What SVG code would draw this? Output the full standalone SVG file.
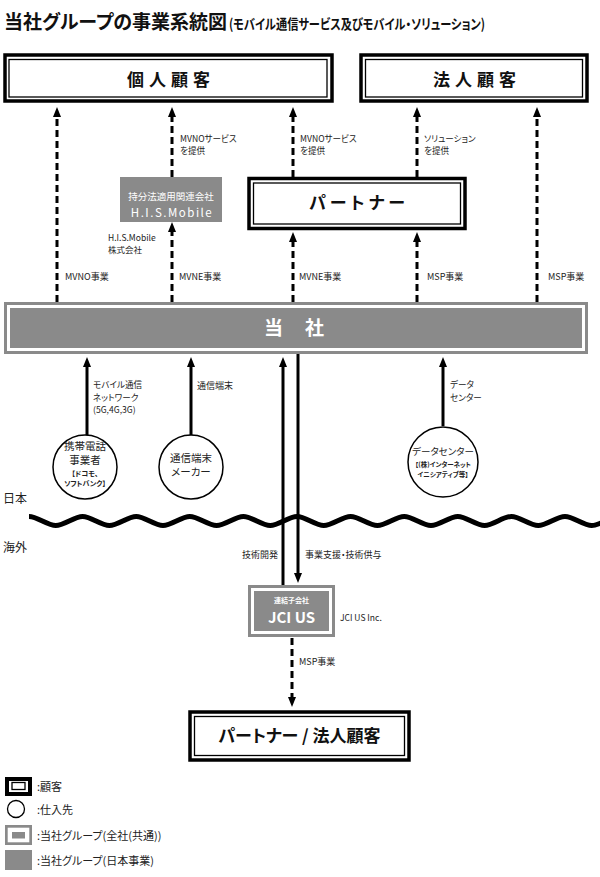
<svg xmlns="http://www.w3.org/2000/svg" width="600" height="877" viewBox="0 0 600 877">
<defs>
<style>
text{font-family:'Noto Sans CJK JP','Noto Sans',sans-serif;font-feature-settings:"palt";fill:#222}
.lbl{font-size:9px}
.ml{font-size:8.6px}
.box{font-size:17px;font-weight:bold;fill:#111;text-anchor:middle}
.wt{fill:#fff;text-anchor:middle}
.ctr{text-anchor:middle}
.outer{fill:#fff;stroke:#000;stroke-width:3.5}
.inner{fill:none;stroke:#000;stroke-width:1.3}
.grey{fill:#8a8a8a}
.white{fill:#fff}
.dash{stroke:#000;stroke-width:3;stroke-dasharray:7 4;fill:none}
.solid{stroke:#000;stroke-width:3;fill:none}
.circ{fill:#fff;stroke:#000;stroke-width:1.5}
</style>
<marker id="ah" viewBox="0 0 10 8" refX="0" refY="4" markerWidth="10" markerHeight="8" markerUnits="userSpaceOnUse" orient="auto">
<path d="M0,0 L10,4 L0,8 z" fill="#000"/>
</marker>
</defs>
<rect width="600" height="877" fill="#fff"/>

<g id="title">
<text x="4" y="29" style="font-size:19px;font-weight:bold;fill:#111">当社グループの事業系統図</text>
<text x="229" y="29" style="font-size:14px;font-weight:bold;fill:#111" textLength="256" lengthAdjust="spacingAndGlyphs">(モバイル通信サービス及びモバイル・ソリューション)</text>
</g>

<g id="connectors">
<line class="dash" x1="57" y1="302" x2="57" y2="117" marker-end="url(#ah)"/>
<line class="dash" x1="172" y1="302" x2="172" y2="232" marker-end="url(#ah)"/>
<line class="dash" x1="172" y1="177" x2="172" y2="117" marker-end="url(#ah)"/>
<line class="dash" x1="293" y1="302" x2="293" y2="242" marker-end="url(#ah)"/>
<line class="dash" x1="293" y1="177" x2="293" y2="117" marker-end="url(#ah)"/>
<line class="dash" x1="417" y1="302" x2="417" y2="242" marker-end="url(#ah)"/>
<line class="dash" x1="417" y1="177" x2="417" y2="117" marker-end="url(#ah)"/>
<line class="dash" x1="537" y1="302" x2="537" y2="117" marker-end="url(#ah)"/>
<line class="solid" x1="87" y1="435" x2="87" y2="367" marker-end="url(#ah)"/>
<line class="solid" x1="191" y1="435" x2="191" y2="367" marker-end="url(#ah)"/>
<line class="solid" x1="443" y1="426" x2="443" y2="367" marker-end="url(#ah)"/>
<line class="solid" x1="283" y1="585" x2="283" y2="367" marker-end="url(#ah)"/>
<line class="solid" x1="298" y1="354" x2="298" y2="573" marker-end="url(#ah)"/>
<line class="dash" x1="292" y1="638" x2="292" y2="697" marker-end="url(#ah)"/>
</g>

<g id="wave">
<path d="M29,516.5 c8.5,0 18.3,9 26.8,9 s18.3,-9 26.8,-9 s18.3,9 26.8,9 s18.3,-9 26.8,-9 s18.3,9 26.8,9 s18.3,-9 26.8,-9 s18.3,9 26.8,9 s18.3,-9 26.8,-9 s18.3,9 26.8,9 s18.3,-9 26.8,-9 s18.3,9 26.8,9 s18.3,-9 26.8,-9 s18.3,9 26.8,9 s18.3,-9 26.8,-9 s18.3,9 26.8,9 s18.3,-9 26.8,-9 s18.3,9 26.8,9 s18.3,-9 26.8,-9 s18.3,9 26.8,9 s18.3,-9 26.8,-9 s18.3,9 26.8,9 s18.3,-9 26.8,-9" fill="none" stroke="#000" stroke-width="5"/>
<text x="3" y="503" style="font-size:12px">日本</text>
<text x="3" y="552" style="font-size:12px">海外</text>
</g>

<g id="labels">
<text class="ml" x="180" y="141.5">MVNOサービス</text>
<text class="ml" x="180" y="154">を提供</text>
<text class="ml" x="300" y="141.5">MVNOサービス</text>
<text class="ml" x="300" y="154">を提供</text>
<text class="ml" x="424" y="141.5">ソリューション</text>
<text class="ml" x="424" y="154">を提供</text>
<text class="lbl" x="65" y="280">MVNO事業</text>
<text class="lbl" x="179" y="280">MVNE事業</text>
<text class="lbl" x="299" y="280">MVNE事業</text>
<text class="lbl" x="427" y="280">MSP事業</text>
<text class="lbl" x="548" y="280">MSP事業</text>
<text class="ml" x="93" y="388">モバイル通信</text>
<text class="ml" x="93" y="400.5">ネットワーク</text>
<text class="ml" x="93" y="413">(5G,4G,3G)</text>
<text class="lbl" x="197" y="389">通信端末</text>
<text class="ml" x="450" y="388">データ</text>
<text class="ml" x="450" y="400.5">センター</text>
<text class="lbl" x="278" y="558" text-anchor="end">技術開発</text>
<text class="lbl" x="305" y="558">事業支援・技術供与</text>
<text class="lbl" x="299" y="665">MSP事業</text>
</g>

<g id="kojin">
<rect class="outer" x="5" y="55" width="327" height="46"/>
<rect class="inner" x="9" y="59.5" width="318" height="37.5"/>
<text class="box" x="171" y="86" letter-spacing="5">個人顧客</text>
</g>

<g id="houjin">
<rect class="outer" x="361" y="55" width="226" height="46"/>
<rect class="inner" x="365.5" y="59.5" width="217" height="37.5"/>
<text class="box" x="477" y="86" letter-spacing="5">法人顧客</text>
</g>

<g id="his">
<rect class="grey" x="120" y="177" width="102" height="45"/>
<text class="wt" x="171" y="200" style="font-size:9.5px">持分法適用関連会社</text>
<text class="wt" x="172" y="217" style="font-size:11.5px" letter-spacing="1.5">H.I.S.Mobile</text>
<text x="108" y="241" style="font-size:8.5px">H.I.S.Mobile</text>
<text x="108" y="253" style="font-size:8.5px">株式会社</text>
</g>

<g id="partner">
<rect class="outer" x="249" y="178.5" width="216" height="50"/>
<rect class="inner" x="253.5" y="183" width="207" height="41"/>
<text class="box" x="359" y="209" letter-spacing="4">パートナー</text>
</g>

<g id="tousha">
<rect class="grey" x="4" y="302" width="584" height="52"/>
<rect class="white" x="7" y="305" width="578" height="46"/>
<rect class="grey" x="10" y="308" width="572" height="40"/>
<text style="font-size:19px;font-weight:bold;fill:#fff"><tspan x="264" y="335">当</tspan><tspan x="305" y="335">社</tspan></text>
</g>

<g id="carrier">
<circle class="circ" cx="85" cy="467" r="32"/>
<text class="ctr" x="85" y="450" style="font-size:10.5px">携帯電話</text>
<text class="ctr" x="85" y="464" style="font-size:10.5px">事業者</text>
<text class="ctr" x="85" y="476" style="font-size:7px;font-weight:bold">【ドコモ、</text>
<text class="ctr" x="85" y="486" style="font-size:7px;font-weight:bold">ソフトバンク】</text>
</g>

<g id="maker">
<circle class="circ" cx="191" cy="467" r="32"/>
<text class="ctr" x="191" y="462" style="font-size:10.5px">通信端末</text>
<text class="ctr" x="191" y="476" style="font-size:10.5px">メーカー</text>
</g>

<g id="datacenter">
<circle class="circ" cx="443" cy="462" r="35"/>
<text class="ctr" x="443" y="455" style="font-size:9.5px">データセンター</text>
<text class="ctr" x="443" y="467" style="font-size:6.5px;font-weight:bold">【(株)インターネット</text>
<text class="ctr" x="443" y="477" style="font-size:6.5px;font-weight:bold">イニシアティブ等】</text>
</g>

<g id="jcius">
<rect class="grey" x="248" y="585" width="87" height="52"/>
<rect class="white" x="251" y="588" width="81" height="46"/>
<rect class="grey" x="254" y="591" width="75" height="40"/>
<text class="wt" x="291.5" y="603" style="font-size:7px;font-weight:bold">連結子会社</text>
<text class="wt" x="291.5" y="623" style="font-size:15px;font-weight:bold">JCI US</text>
<text x="340" y="621" style="font-size:8.5px">JCI US Inc.</text>
</g>

<g id="partner-houjin">
<rect class="outer" x="190" y="712" width="219" height="48"/>
<rect class="inner" x="194.5" y="716.5" width="210" height="39"/>
<text class="box" x="299.5" y="742">パートナー / 法人顧客</text>
</g>

<g id="legend">
<rect x="7" y="779" width="23" height="15" fill="#fff" stroke="#000" stroke-width="4"/>
<rect x="12" y="782.5" width="13" height="7" fill="none" stroke="#000" stroke-width="1.3"/>
<text x="37" y="791" style="font-size:11px">:顧客</text>
<circle cx="16" cy="809" r="8.5" fill="#fff" stroke="#000" stroke-width="1.3"/>
<text x="37" y="814" style="font-size:11px">:仕入先</text>
<rect class="grey" x="5" y="825" width="27" height="20"/>
<rect class="white" x="7.7" y="827.7" width="21.6" height="14.6"/>
<rect class="grey" x="12" y="832" width="13" height="6.5"/>
<text x="37" y="840" style="font-size:11px">:当社グループ(全社(共通))</text>
<rect class="grey" x="5" y="850" width="27" height="20"/>
<text x="37" y="865" style="font-size:11px">:当社グループ(日本事業)</text>
</g>
</svg>
